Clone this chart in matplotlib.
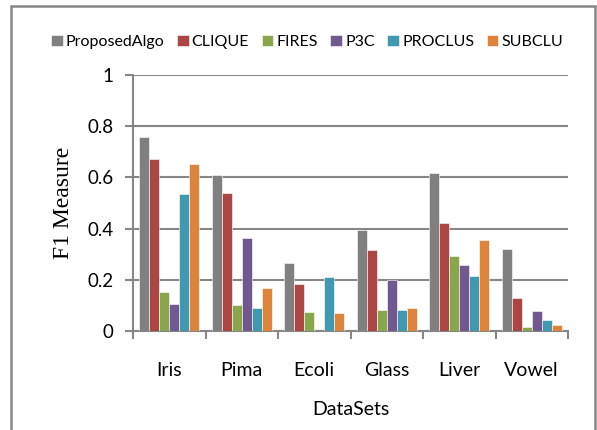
import numpy as np
import matplotlib
matplotlib.use("Agg")
import matplotlib.pyplot as plt
from matplotlib.patches import Rectangle

datasets = ["Iris", "Pima", "Ecoli", "Glass", "Liver", "Vowel"]
algos = ["ProposedAlgo", "CLIQUE", "FIRES", "P3C", "PROCLUS", "SUBCLU"]
colors = ["#808080", "#AA4643", "#89A54E", "#71588F", "#4198AF", "#DB843D"]

proposed = [0.757, 0.608, 0.266, 0.396, 0.617, 0.321]
clique = [0.673, 0.539, 0.184, 0.316, 0.420, 0.128]
fires = [0.154, 0.100, 0.073, 0.081, 0.294, 0.016]
p3c = [0.107, 0.363, 0.0, 0.200, 0.259, 0.079]
proclus = [0.534, 0.091, 0.210, 0.081, 0.215, 0.042]
subclu = [0.652, 0.167, 0.069, 0.089, 0.357, 0.022]
series = [proposed, clique, fires, p3c, proclus, subclu]

plt.rcParams['font.family'] = ['Lato', 'DejaVu Sans']

fig = plt.figure(figsize=(5.97, 4.30), dpi=100)
# outer chart frame
fig.patches.append(Rectangle((11 / 597, -0.05), 584 / 597, 1.05 - 6 / 430,
                             transform=fig.transFigure, fill=False,
                             edgecolor="#878787", linewidth=1.8))

ax = fig.add_axes([133 / 597, 99 / 430, 435 / 597, 256 / 430])

x = np.arange(len(datasets))
bw = 0.138
for i, (name, vals) in enumerate(zip(algos, series)):
    offs = (i - 2.5) * bw
    ax.bar(x + offs, vals, width=bw, color=colors[i], label=name,
           edgecolor="white", linewidth=0.4, zorder=3)

ax.set_xlim(-0.5, len(datasets) - 0.5)
ax.set_ylim(0, 1)
ax.set_yticks([0, 0.2, 0.4, 0.6, 0.8, 1])
ax.set_yticklabels(["0", "0.2", "0.4", "0.6", "0.8", "1"])
ax.set_xticks(x)
ax.set_xticklabels(datasets)
ax.set_xticks(np.arange(-0.5, len(datasets)), minor=True)
ax.tick_params(axis="x", which="major", length=0, pad=22, labelsize=14)
ax.tick_params(axis="x", which="minor", length=6, width=1.5, color="#868686")
ax.tick_params(axis="y", length=6, width=1.5, color="#868686", pad=8, labelsize=13.5)

ax.grid(axis="y", color="#868686", linewidth=1.5, zorder=0)
for s in ["top", "right"]:
    ax.spines[s].set_visible(False)
for s in ["left", "bottom"]:
    ax.spines[s].set_color("#868686")
    ax.spines[s].set_linewidth(1.5)

ax.set_ylabel("F1 Measure", family=["Liberation Serif"], fontsize=17, labelpad=10)
ax.set_xlabel("DataSets", fontsize=14, labelpad=16)

fig.legend(loc="center", bbox_to_anchor=(307 / 597, 1 - 42 / 430), ncol=6,
           frameon=False, fontsize=11.5, handlelength=0.73, handleheight=0.73,
           handletextpad=0.19, columnspacing=0.79)

fig.savefig("out.png", dpi=100)
